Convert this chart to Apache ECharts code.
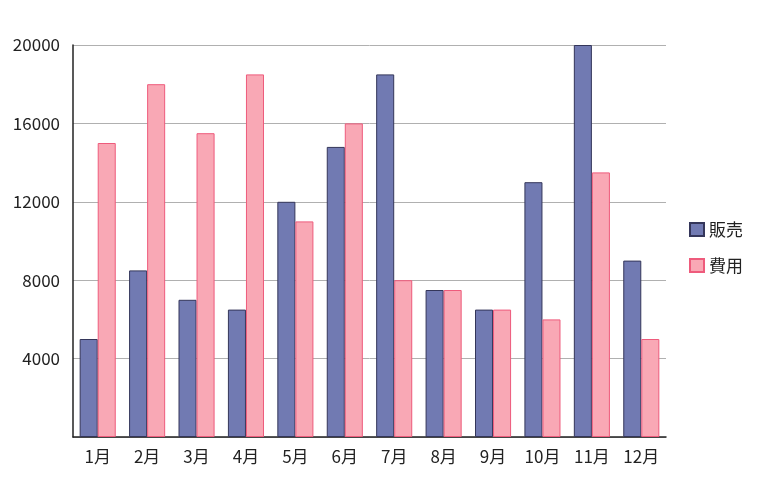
<!DOCTYPE html>
<html><head><meta charset="utf-8">
<script src="https://cdn.jsdelivr.net/npm/echarts@6/dist/echarts.min.js"></script>
<style>html,body{margin:0;padding:0;background:#fff}#c{width:762px;height:486px}</style>
</head><body><div id="c"></div>
<script>
const categories = ['1月','2月','3月','4月','5月','6月','7月','8月','9月','10月','11月','12月'];
const sales = [5000, 8500, 7000, 6500, 12000, 14800, 18500, 7500, 6500, 13000, 20000, 9000];
const costs = [15000, 18000, 15500, 18500, 11000, 16000, 8000, 7500, 6500, 6000, 13500, 5000];
const seriesNames = ['販売', '費用'];
const font = '"Noto Sans CJK JP", "Noto Sans", sans-serif';
const chart = echarts.init(document.getElementById('c'), null, {renderer: 'canvas'});
chart.setOption({
  animation: false,
  textStyle: {fontFamily: font},
  grid: {left: 73, right: 96, top: 45, bottom: 49, containLabel: false},
  legend: {
    orient: 'vertical', left: 684, top: 216, itemWidth: 14, itemHeight: 13, itemGap: 19,
    icon: 'rect',
    textStyle: {fontSize: 17, color: '#222', fontFamily: font},
    data: seriesNames
  },
  xAxis: {
    type: 'category', data: categories,
    axisLine: {lineStyle: {color: '#222', width: 1.5}},
    axisTick: {alignWithLabel: true, length: 6, lineStyle: {color: '#222'}},
    axisLabel: {fontSize: 17, color: '#222', margin: 11, fontFamily: font}
  },
  yAxis: {
    type: 'value', min: 0, max: 20000, interval: 4000,
    axisLine: {show: true, lineStyle: {color: '#222', width: 1.5}},
    axisTick: {show: false},
    axisLabel: {fontSize: 17, color: '#222', margin: 13, fontFamily: font, formatter: v => v === 0 ? '' : String(v)},
    splitLine: {lineStyle: {color: '#b0b0b0', width: 1}}
  },
  series: [
    {name: seriesNames[0], type: 'bar', data: sales, barGap: '0%', barCategoryGap: '27%',
     itemStyle: {color: '#717ab2', borderColor: '#34365a', borderWidth: 1}},
    {name: seriesNames[1], type: 'bar', data: costs, barGap: '0%', barCategoryGap: '27%',
     itemStyle: {color: '#f9a8b5', borderColor: '#ee5b7c', borderWidth: 1}}
  ]
});
</script></body></html>
